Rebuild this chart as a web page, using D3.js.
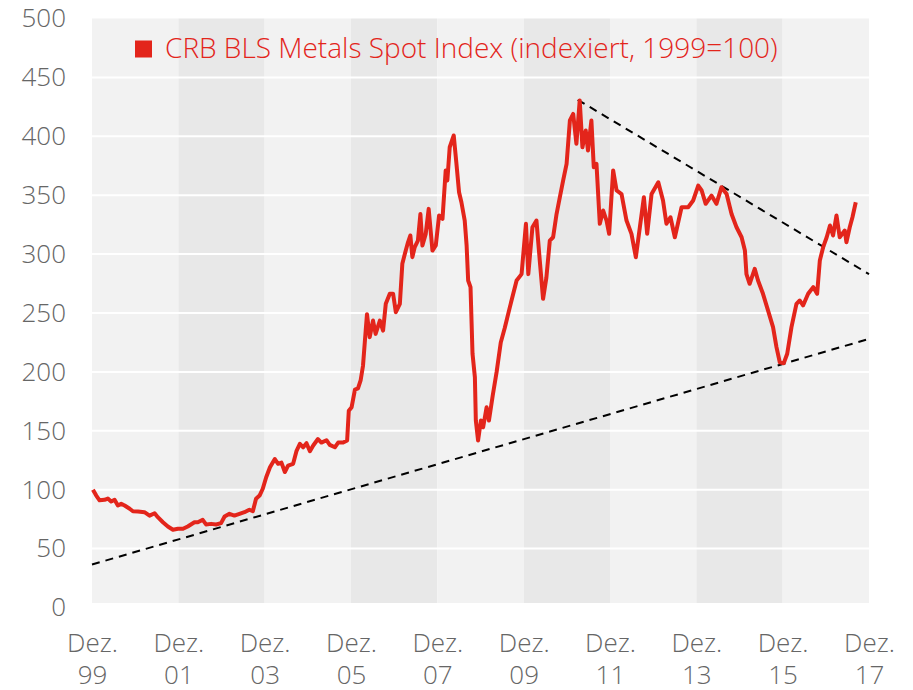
<!doctype html>
<html>
<head>
	<meta charset="UTF-8">
	<title>CRB BLS Metals Spot Index</title>
	<script src="https://d3js.org/d3.v7.min.js"></script>
	<style>
		body { margin: 0; background: #fff; }
		text { font-family: "Open Sans", "Noto Sans", sans-serif; font-weight: 300; }
	</style>
</head>
<body>
	<script>

		// series name for the legend
		var seriesName = "CRB BLS Metals Spot Index (indexiert, 1999=100)";

		// index values (approx. monthly turning points)
		var dates = [
			"2000-01-09","2000-02-06","2000-03-05","2000-04-16","2000-05-14","2000-06-11","2000-07-10","2000-08-07",
			"2000-09-04","2000-10-03","2000-11-15","2000-12-12","2001-01-24","2001-03-20","2001-05-02","2001-06-14",
			"2001-07-11","2001-08-23","2001-10-04","2001-11-16","2001-12-28","2002-02-09","2002-03-21","2002-05-17",
			"2002-06-14","2002-07-26","2002-08-23","2002-10-05","2002-11-17","2002-12-28","2003-01-27","2003-03-09",
			"2003-04-20","2003-06-02","2003-07-14","2003-08-25","2003-09-23","2003-10-20","2003-11-19","2003-12-16",
			"2004-01-14","2004-02-15","2004-03-27","2004-04-24","2004-05-22","2004-06-20","2004-07-17","2004-08-29",
			"2004-09-27","2004-10-25","2004-11-22","2004-12-20","2005-01-18","2005-02-15","2005-03-27","2005-04-25",
			"2005-06-07","2005-07-05","2005-08-17","2005-09-14","2005-10-26","2005-11-29","2005-12-13","2006-01-06",
			"2006-02-03","2006-03-01","2006-03-23","2006-04-12","2006-05-05","2006-05-16","2006-06-08","2006-07-06",
			"2006-07-28","2006-09-02","2006-09-29","2006-10-22","2006-11-25","2006-12-23","2007-01-15","2007-02-18",
			"2007-03-11","2007-04-01","2007-04-28","2007-05-18","2007-06-04","2007-06-24","2007-07-21","2007-08-11",
			"2007-08-28","2007-09-25","2007-10-20","2007-11-21","2007-12-19","2008-01-16","2008-02-14","2008-03-12",
			"2008-03-26","2008-04-15","2008-05-19","2008-06-11","2008-07-03","2008-07-23","2008-08-20","2008-09-05",
			"2008-09-18","2008-10-08","2008-10-25","2008-11-14","2008-11-22","2008-12-11","2009-01-04","2009-01-23",
			"2009-02-21","2009-03-13","2009-04-14","2009-05-17","2009-06-21","2009-07-24","2009-09-06","2009-11-02",
			"2009-12-14","2010-01-20","2010-02-09","2010-03-16","2010-04-19","2010-05-17","2010-06-14","2010-07-12",
			"2010-08-10","2010-09-07","2010-10-06","2010-11-03","2010-12-01","2010-12-30","2011-01-27","2011-02-24",
			"2011-03-23","2011-04-20","2011-05-13","2011-06-10","2011-06-29","2011-07-28","2011-08-17","2011-09-09",
			"2011-10-07","2011-11-04","2011-12-03","2011-12-25","2012-01-28","2012-02-26","2012-04-08","2012-05-20",
			"2012-07-01","2012-08-07","2012-09-10","2012-10-14","2012-11-11","2012-12-18","2013-02-13","2013-03-25",
			"2013-04-23","2013-05-27","2013-07-03","2013-08-29","2013-10-24","2013-12-05","2014-01-17","2014-02-15",
			"2014-03-21","2014-05-09","2014-06-20","2014-08-02","2014-09-14","2014-10-26","2014-12-07","2015-01-19",
			"2015-02-16","2015-03-01","2015-03-28","2015-05-10","2015-06-07","2015-07-19","2015-08-31","2015-10-12",
			"2015-11-10","2015-12-08","2016-01-11","2016-02-09","2016-03-16","2016-04-27","2016-05-25","2016-06-22",
			"2016-08-04","2016-09-16","2016-10-19","2016-11-11","2016-12-09","2017-01-08","2017-02-05","2017-03-03",
			"2017-04-01","2017-04-28","2017-06-10","2017-06-24","2017-07-22","2017-08-14","2017-09-11"
		];
		var values = [
			100, 95, 91, 91.4, 92.5, 90, 91.4, 86.6,
			88, 86.6, 83.8, 81.7, 81.5, 80.9, 78, 80,
			76.7, 72.4, 68.8, 66, 66.8, 66.8, 68.8, 72.4,
			72.4, 74.4, 70.5, 71, 70.5, 71.6, 77.2, 79.5,
			78, 79.5, 80.9, 83, 81.7, 92.3, 95, 100.8,
			110.6, 119, 126, 122, 123, 115, 120.5, 122,
			133, 139, 136, 139.5, 132.7, 137.5, 143, 140,
			142, 138, 136, 140, 140, 141.8, 167, 170,
			185, 186, 192.7, 205, 235, 249, 229.5, 243.6,
			232.3, 243.6, 235, 257.8, 266.3, 266.3, 250.7, 257.8,
			291.8, 300, 310, 315.8, 297.4, 305.9, 311.5, 334,
			307.3, 317.2, 338.4, 303, 307.3, 332.8, 330, 371,
			362.5, 390.7, 400.7, 376.6, 352.5, 344, 328.5, 307.3,
			277.6, 272, 215.4, 195.5, 158.7, 141.8, 158.7, 153,
			170, 158.7, 180, 200, 225, 237, 255, 277.6,
			283, 325.7, 283, 322.8, 328.5, 294.6, 262, 280,
			311.5, 314.3, 334, 348.3, 362.5, 376.6, 413.4, 419,
			393.6, 430.4, 390.7, 404.9, 388, 413.4, 373.8, 376.6,
			325.7, 337, 328.5, 317.2, 371, 354, 351, 328.5,
			317.2, 297.4, 322.8, 348.3, 317.2, 351, 361, 345.5,
			325.7, 331.3, 314.3, 339.8, 339.8, 345.5, 358.2, 354,
			342.7, 349.7, 342.7, 356.8, 351, 334, 322.8, 314.3,
			303, 283, 274.8, 287.5, 277.6, 266.3, 252, 238,
			221, 208.2, 207.4, 215.4, 238, 257.8, 260.6, 256.4,
			266.3, 272, 266.3, 294.6, 305.9, 314.3, 324.3, 315.8,
			332.8, 314.3, 320, 310, 322.8, 331.3, 344
		];

		// trend lines (dashed)
		var supportDates = ["2000-01-01", "2018-01-01"];
		var supportValues = [36.5, 228];
		var resistDates = ["2011-04-03", "2018-01-01"];
		var resistValues = [431, 283];

		// x axis ticks: "Dez." + year, every two years
		var tickDates = ["2000-01-01","2002-01-01","2004-01-01","2006-01-01","2008-01-01",
			"2010-01-01","2012-01-01","2014-01-01","2016-01-01","2018-01-01"];
		var tickLabels = ["99","01","03","05","07","09","11","13","15","17"];

		// y axis ticks
		var yTicks = [0, 50, 100, 150, 200, 250, 300, 350, 400, 450, 500];

		var parseDate = d3.timeParse("%Y-%m-%d");
		var red = "#e3251b";

		var W = 913, H = 690;
		var plotLeft = 92, plotRight = 869, plotTop = 18.5, zeroY = 607.5, plotBottom = 603;

		var svg = d3.select("body")
			.append("svg")
				.attr("width", W)
				.attr("height", H);

		// scales
		var x = d3.scaleTime()
			.domain([parseDate(tickDates[0]), parseDate(tickDates[tickDates.length - 1])])
			.range([plotLeft, plotRight]);
		var y = d3.scaleLinear()
			.domain([0, 500])
			.range([zeroY, plotTop]);

		// alternating background bands
		for (var i = 0; i < tickDates.length - 1; i++) {
			svg.append("rect")
				.attr("x", x(parseDate(tickDates[i])))
				.attr("y", y(500))
				.attr("width", x(parseDate(tickDates[i + 1])) - x(parseDate(tickDates[i])))
				.attr("height", plotBottom - y(500))
				.attr("fill", i % 2 == 0 ? "#f2f2f2" : "#e8e8e8");
		}

		// white gridlines
		svg.append("g")
			.selectAll("line")
			.data(yTicks.filter(function(d) { return d > 0 && d < 500; }))
			.enter().append("line")
				.attr("x1", plotLeft)
				.attr("x2", plotRight)
				.attr("y1", function(d) { return y(d); })
				.attr("y2", function(d) { return y(d); })
				.attr("stroke", "#fff")
				.attr("stroke-width", 2);

		// y axis labels
		var yAxis = svg.append("g")
			.attr("transform", "translate(" + plotLeft + ",0)")
			.call(d3.axisLeft(y).tickValues(yTicks).tickSize(0).tickPadding(26));
		yAxis.select(".domain").remove();
		yAxis.selectAll("text")
			.attr("fill", "#666")
			.style("font-size", "26px");

		// x axis labels (two lines)
		var xAxis = svg.append("g")
			.attr("transform", "translate(0," + plotBottom + ")")
			.call(d3.axisBottom(x).tickValues(tickDates.map(parseDate)).tickSize(0).tickFormat(""));
		xAxis.select(".domain").remove();
		xAxis.selectAll(".tick").each(function(d, i) {
			var t = d3.select(this).append("text")
				.attr("fill", "#666")
				.attr("text-anchor", "middle")
				.style("font-size", "26px");
			t.append("tspan").attr("x", 0).attr("y", 49).text("Dez.");
			t.append("tspan").attr("x", 0).attr("y", 81).text(tickLabels[i]);
		});

		// dashed trend lines
		var trend = d3.line()
			.x(function(d) { return x(d[0]); })
			.y(function(d) { return y(d[1]); });

		[[supportDates, supportValues], [resistDates, resistValues]].forEach(function(t) {
			svg.append("path")
				.attr("d", trend(t[0].map(function(d, i) { return [parseDate(d), t[1][i]]; })))
				.attr("fill", "none")
				.attr("stroke", "#000")
				.attr("stroke-width", 2)
				.attr("stroke-dasharray", "8,6");
		});

		// index line
		var valueline = d3.line()
			.x(function(d) { return x(d.date); })
			.y(function(d) { return y(d.value); });

		var data = dates.map(function(d, i) { return {date: parseDate(d), value: values[i]}; });

		svg.append("path")
			.attr("d", valueline(data))
			.attr("fill", "none")
			.attr("stroke", red)
			.attr("stroke-width", 4)
			.attr("stroke-linejoin", "round");

		// legend
		svg.append("rect")
			.attr("x", 135)
			.attr("y", 40.5)
			.attr("width", 17)
			.attr("height", 17)
			.attr("fill", red);
		svg.append("text")
			.attr("x", 165)
			.attr("y", 58)
			.attr("fill", red)
			.style("font-size", "28px")
			.text(seriesName);

	</script>
</body>
</html>
